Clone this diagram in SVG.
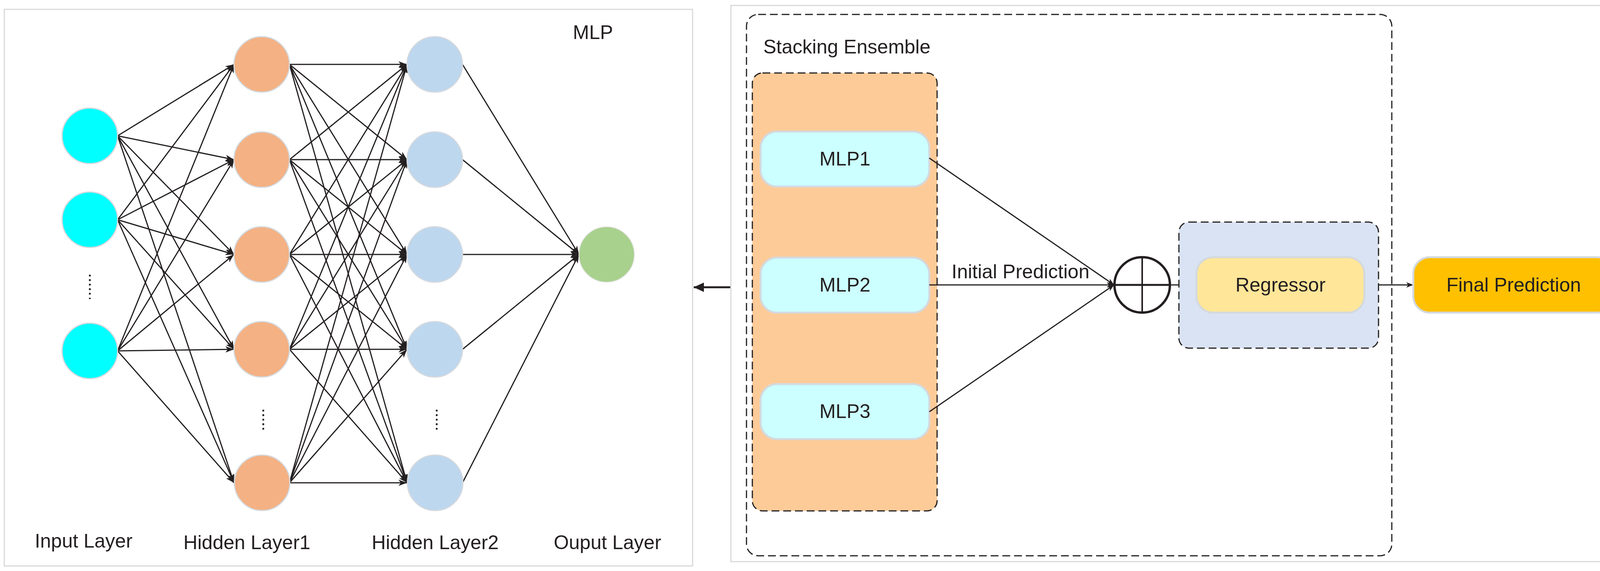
<svg xmlns="http://www.w3.org/2000/svg" width="4171" height="1463" viewBox="0 0 4171 1463">
<defs>
<style>
text{font-family:"Liberation Sans",Arial,sans-serif;font-size:50px;fill:#231F20}
.panel{fill:#fff;stroke:#d9d9d9;stroke-width:3}
.node{stroke:#d4d9de;stroke-width:3}
.in{fill:#00FFFF}
.h1{fill:#F4B183}
.h2{fill:#BDD7EE}
.out{fill:#A9D18E}
.e{stroke:#231F20;stroke-width:3;fill:none;marker-end:url(#ah)}
.c{stroke:#231F20;stroke-width:3;fill:none;marker-end:url(#ah2)}
.dash{fill:none;stroke:#231F20;stroke-width:3;stroke-dasharray:20 10}
.dots{stroke:#231F20;stroke-width:5;stroke-linecap:round;stroke-dasharray:0.1 11.5}
.box{stroke:#d4d9de;stroke-width:5}
</style>
<marker id="ah" viewBox="0 0 22 16" refX="22" refY="8" markerWidth="22" markerHeight="16" markerUnits="userSpaceOnUse" orient="auto">
<path d="M0,0 L22,8 L0,16 L6,8 z" fill="#231F20"/>
</marker>
<marker id="ah2" viewBox="0 0 18 14" refX="18" refY="7" markerWidth="18" markerHeight="14" markerUnits="userSpaceOnUse" orient="auto">
<path d="M0,0 L18,7 L0,14 L5,7 z" fill="#231F20"/>
</marker>
<marker id="ah3" viewBox="0 0 26 24" refX="26" refY="12" markerWidth="26" markerHeight="24" markerUnits="userSpaceOnUse" orient="auto">
<path d="M0,0 L26,12 L0,24 z" fill="#231F20"/>
</marker>
</defs>
<rect width="4171" height="1463" fill="#fff"/>

<g id="mlp-panel">
<rect class="panel" x="11" y="24" width="1762" height="1426"/>
<text x="1518" y="100" text-anchor="middle">MLP</text>
</g>

<g id="connectors">
<line class="e" x1="301" y1="348" x2="599" y2="165"/>
<line class="e" x1="301" y1="348" x2="599" y2="409"/>
<line class="e" x1="301" y1="348" x2="599" y2="652"/>
<line class="e" x1="301" y1="348" x2="599" y2="895"/>
<line class="e" x1="301" y1="348" x2="599" y2="1237"/>
<line class="e" x1="301" y1="563" x2="599" y2="165"/>
<line class="e" x1="301" y1="563" x2="599" y2="409"/>
<line class="e" x1="301" y1="563" x2="599" y2="652"/>
<line class="e" x1="301" y1="563" x2="599" y2="895"/>
<line class="e" x1="301" y1="563" x2="599" y2="1237"/>
<line class="e" x1="301" y1="899" x2="599" y2="165"/>
<line class="e" x1="301" y1="899" x2="599" y2="409"/>
<line class="e" x1="301" y1="899" x2="599" y2="652"/>
<line class="e" x1="301" y1="899" x2="599" y2="895"/>
<line class="e" x1="301" y1="899" x2="599" y2="1237"/>
<line class="e" x1="741" y1="165" x2="1042" y2="165"/>
<line class="e" x1="741" y1="165" x2="1042" y2="409"/>
<line class="e" x1="741" y1="165" x2="1042" y2="652"/>
<line class="e" x1="741" y1="165" x2="1042" y2="895"/>
<line class="e" x1="741" y1="165" x2="1042" y2="1237"/>
<line class="e" x1="741" y1="409" x2="1042" y2="165"/>
<line class="e" x1="741" y1="409" x2="1042" y2="409"/>
<line class="e" x1="741" y1="409" x2="1042" y2="652"/>
<line class="e" x1="741" y1="409" x2="1042" y2="895"/>
<line class="e" x1="741" y1="409" x2="1042" y2="1237"/>
<line class="e" x1="741" y1="652" x2="1042" y2="165"/>
<line class="e" x1="741" y1="652" x2="1042" y2="409"/>
<line class="e" x1="741" y1="652" x2="1042" y2="652"/>
<line class="e" x1="741" y1="652" x2="1042" y2="895"/>
<line class="e" x1="741" y1="652" x2="1042" y2="1237"/>
<line class="e" x1="741" y1="895" x2="1042" y2="165"/>
<line class="e" x1="741" y1="895" x2="1042" y2="409"/>
<line class="e" x1="741" y1="895" x2="1042" y2="652"/>
<line class="e" x1="741" y1="895" x2="1042" y2="895"/>
<line class="e" x1="741" y1="895" x2="1042" y2="1237"/>
<line class="e" x1="741" y1="1237" x2="1042" y2="165"/>
<line class="e" x1="741" y1="1237" x2="1042" y2="409"/>
<line class="e" x1="741" y1="1237" x2="1042" y2="652"/>
<line class="e" x1="741" y1="1237" x2="1042" y2="895"/>
<line class="e" x1="741" y1="1237" x2="1042" y2="1237"/>
<line class="e" x1="1184" y1="165" x2="1482" y2="652"/>
<line class="e" x1="1184" y1="409" x2="1482" y2="652"/>
<line class="e" x1="1184" y1="652" x2="1482" y2="652"/>
<line class="e" x1="1184" y1="895" x2="1482" y2="652"/>
<line class="e" x1="1184" y1="1237" x2="1482" y2="652"/>
<line x1="1873" y1="736" x2="1776" y2="736" stroke="#231F20" stroke-width="5" marker-end="url(#ah3)"/>
</g>

<g id="input-layer">
<circle class="node in" cx="230" cy="348" r="71"/>
<circle class="node in" cx="230" cy="563" r="71"/>
<circle class="node in" cx="230" cy="899" r="71"/>
<line class="dots" x1="230" y1="706" x2="230" y2="764"/>
<text x="214" y="1403" text-anchor="middle">Input Layer</text>
</g>

<g id="hidden-layer1">
<circle class="node h1" cx="670" cy="165" r="71"/>
<circle class="node h1" cx="670" cy="409" r="71"/>
<circle class="node h1" cx="670" cy="652" r="71"/>
<circle class="node h1" cx="670" cy="895" r="71"/>
<circle class="node h1" cx="671" cy="1237" r="71"/>
<line class="dots" x1="674" y1="1052" x2="674" y2="1110"/>
<text x="632" y="1407" text-anchor="middle">Hidden Layer1</text>
</g>

<g id="hidden-layer2">
<circle class="node h2" cx="1113" cy="165" r="71"/>
<circle class="node h2" cx="1113" cy="409" r="71"/>
<circle class="node h2" cx="1113" cy="652" r="71"/>
<circle class="node h2" cx="1113" cy="895" r="71"/>
<circle class="node h2" cx="1114" cy="1237" r="71"/>
<line class="dots" x1="1118" y1="1052" x2="1118" y2="1110"/>
<text x="1114" y="1407" text-anchor="middle">Hidden Layer2</text>
</g>

<g id="output-layer">
<circle class="out" cx="1553" cy="652" r="71" stroke="#e6e6e6" stroke-width="2"/>
<text x="1555" y="1407" text-anchor="middle">Ouput Layer</text>
</g>

<g id="ensemble-panel">
<rect class="panel" x="1871" y="14" width="2288" height="1425"/>
<rect class="dash" x="1911" y="37" width="1652" height="1387" rx="30"/>
<text x="1954" y="137">Stacking Ensemble</text>
</g>

<g id="base-models">
<rect x="1926" y="187" width="473" height="1122" rx="26" fill="#FDCB98" stroke="#231F20" stroke-width="3" stroke-dasharray="20 10"/>
</g>

<g id="mlp1">
<rect class="box" x="1947" y="337" width="432" height="141" rx="42" fill="#CCFFFF"/>
<text x="2163" y="424" text-anchor="middle">MLP1</text>
</g>
<g id="mlp2">
<rect class="box" x="1947" y="660" width="432" height="141" rx="42" fill="#CCFFFF"/>
<text x="2163" y="747" text-anchor="middle">MLP2</text>
</g>
<g id="mlp3">
<rect class="box" x="1947" y="984" width="432" height="141" rx="42" fill="#CCFFFF"/>
<text x="2163" y="1071" text-anchor="middle">MLP3</text>
</g>

<g id="ensemble-connectors">
<line class="c" x1="2379" y1="405" x2="2852" y2="730"/>
<line class="c" x1="2379" y1="730" x2="2852" y2="730"/>
<line class="c" x1="2379" y1="1055" x2="2852" y2="730"/>
<text x="2436" y="713">Initial Prediction</text>
<line class="c" x1="2996" y1="730" x2="3063" y2="730"/>
<line class="c" x1="3493" y1="730" x2="3618" y2="730"/>
</g>

<g id="sum">
<circle cx="2924" cy="730" r="71" fill="#fff" stroke="#231F20" stroke-width="6"/>
<line x1="2853" y1="730" x2="2995" y2="730" stroke="#231F20" stroke-width="5"/>
<line x1="2924" y1="659" x2="2924" y2="801" stroke="#231F20" stroke-width="4"/>
</g>

<g id="meta-learner">
<rect x="3018" y="569" width="511" height="323" rx="26" fill="#DAE3F3" stroke="#231F20" stroke-width="3" stroke-dasharray="20 10"/>
</g>

<g id="regressor">
<rect class="box" x="3063" y="659" width="430" height="142" rx="42" fill="#FFE699"/>
<text x="3278" y="747" text-anchor="middle">Regressor</text>
</g>

<g id="final-prediction">
<rect class="box" x="3618" y="659" width="514" height="142" rx="42" fill="#FFC000"/>
<text x="3875" y="747" text-anchor="middle">Final Prediction</text>
</g>
</svg>
